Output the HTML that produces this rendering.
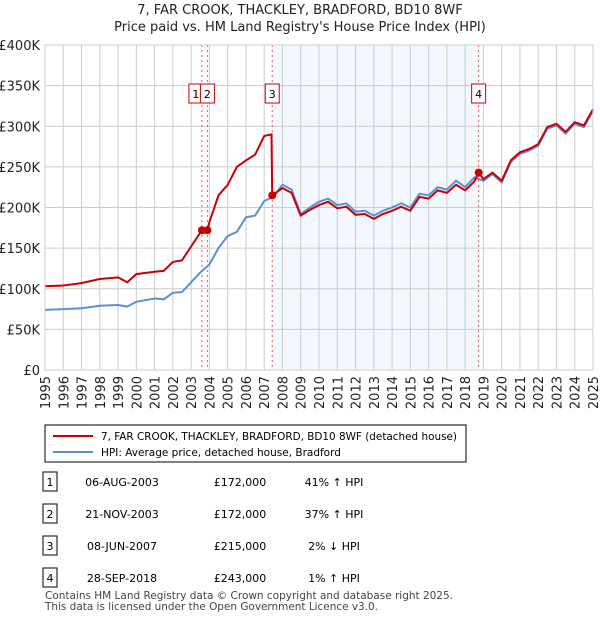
<!DOCTYPE html>
<html><head><meta charset="utf-8"><style>
body{margin:0;background:#fff;font-family:"Liberation Sans","DejaVu Sans",sans-serif;}
svg text{font-family:"DejaVu Sans","Liberation Sans",sans-serif;}
</style></head><body>
<svg width="600" height="620" xmlns="http://www.w3.org/2000/svg">
<text x="300" y="14" text-anchor="middle" font-size="13" fill="#222">7, FAR CROOK, THACKLEY, BRADFORD, BD10 8WF</text>
<text x="300" y="31" text-anchor="middle" font-size="13" fill="#222">Price paid vs. HM Land Registry's House Price Index (HPI)</text>
<g id="plot"></g>
<g>
<rect x="45" y="425" width="421" height="37" fill="#fff" stroke="#000" stroke-width="1"/>
<line x1="53" y1="436" x2="93" y2="436" stroke="#cc0000" stroke-width="2"/>
<text x="101" y="440" font-size="10.5" textLength="356" lengthAdjust="spacingAndGlyphs" fill="#000">7, FAR CROOK, THACKLEY, BRADFORD, BD10 8WF (detached house)</text>
<line x1="53" y1="452" x2="93" y2="452" stroke="#5b8fd6" stroke-width="2"/>
<text x="101" y="456" font-size="10.5" fill="#000">HPI: Average price, detached house, Bradford</text>
</g>
<g id="table" font-size="11" fill="#000"></g>
<text x="45" y="599" font-size="10.5" textLength="408" lengthAdjust="spacingAndGlyphs" fill="#444">Contains HM Land Registry data © Crown copyright and database right 2025.</text>
<text x="45" y="610" font-size="10.5" textLength="333" lengthAdjust="spacingAndGlyphs" fill="#444">This data is licensed under the Open Government Licence v3.0.</text>
</svg>
<script>
const hpiYears=[1995,1996,1997,1998,1999,1999.5,2000,2001,2001.5,2002,2002.5,2003,2003.5,2004,2004.5,2005,2005.5,2006,2006.5,2007,2007.5,2008,2008.5,2009,2009.5,2010,2010.5,2011,2011.5,2012,2012.5,2013,2013.5,2014,2014.5,2015,2015.5,2016,2016.5,2017,2017.5,2018,2018.5,2019,2019.5,2020,2020.5,2021,2021.5,2022,2022.5,2023,2023.5,2024,2024.5,2025];
const hpiValues=[74,75,76,79,80,78,84,88,87,95,96,108,120,130,150,165,170,188,190,208,213,228,222,192,200,207,211,203,205,195,196,190,196,200,205,200,217,215,225,222,233,225,237,233,241,231,256,266,270,276,297,301,291,303,299,319];
const priceYears=[1995,1996,1997,1998,1999,1999.5,2000,2001,2001.5,2002,2002.5,2003,2003.59,2003.89,2004,2004.5,2005,2005.5,2006,2006.5,2007,2007.4,2007.44,2008,2008.5,2009,2009.5,2010,2010.5,2011,2011.5,2012,2012.5,2013,2013.5,2014,2014.5,2015,2015.5,2016,2016.5,2017,2017.5,2018,2018.5,2018.74,2019,2019.5,2020,2020.5,2021,2021.5,2022,2022.5,2023,2023.5,2024,2024.5,2025];
const priceValues=[103,104,107,112,114,108,118,121,122,133,135,152,172,172,182,215,228,250,258,265,288,290,215,224,218,190,197,203,207,199,201,191,192,186,192,196,201,196,213,211,221,218,228,221,232,243,235,243,233,258,268,272,278,299,303,293,305,301,321];
const sales=[{n:"1",t:2003.59,v:172,d:"06-AUG-2003",p:"£172,000",h:"41% ↑ HPI"},{n:"2",t:2003.89,v:172,d:"21-NOV-2003",p:"£172,000",h:"37% ↑ HPI"},{n:"3",t:2007.44,v:215,d:"08-JUN-2007",p:"£215,000",h:"2% ↓ HPI"},{n:"4",t:2018.74,v:243,d:"28-SEP-2018",p:"£243,000",h:"1% ↑ HPI"}];
const yTicks=[0,50,100,150,200,250,300,350,400];
const NS="http://www.w3.org/2000/svg";
const X0=45,X1=593,Y0=370,Y1=45;
const xs=t=>X0+(t-1995)/30*(X1-X0);
const ys=v=>Y0-v/400*(Y0-Y1);
const plot=document.getElementById('plot');
function mk(tag,attrs,parent){const e=document.createElementNS(NS,tag);for(const k in attrs)e.setAttribute(k,attrs[k]);(parent||plot).appendChild(e);return e;}
let r=mk('rect',{x:xs(2007.44),y:Y1,width:xs(2018.74)-xs(2007.44),height:Y0-Y1,fill:'#eef3fd',opacity:0.7});


for(const v of yTicks){
 let l=mk('line',{x1:X0,x2:X1,y1:ys(v),y2:ys(v),stroke:'#ccc'});
 
 
 let t=mk('text',{x:X0-5,y:ys(v)+5,'text-anchor':'end','font-size':13,fill:'#222'});
 t.textContent=v===0?'£0':'£'+v+'K';
 
 
}
for(let y=1995;y<=2025;y++){
 let l=mk('line',{x1:xs(y),x2:xs(y),y1:Y1,y2:Y0,stroke:'#ccc'});
 
 
 let t=mk('text',{x:0,y:0,'font-size':13,fill:'#222','text-anchor':'end',transform:`translate(${xs(y)+5},${Y0+6}) rotate(-90)`});
 t.textContent=y;
 
 
}
for(const s of sales){
 let l=mk('line',{x1:xs(s.t),x2:xs(s.t),y1:Y1,y2:Y0,stroke:'#ee5555','stroke-dasharray':'2,3'});
 
 
}
const path=(xa,va)=>xa.map((t,i)=>(i?'L':'M')+xs(t).toFixed(1)+','+ys(va[i]).toFixed(1)).join('');
let hp=mk('path',{d:path(hpiYears,hpiValues),fill:'none',stroke:'#5b8fd6','stroke-width':2});


let pp=mk('path',{d:path(priceYears,priceValues),fill:'none',stroke:'#cc0000','stroke-width':2});


const labelOff={"1":-6,"2":0,"3":0,"4":0};
for(const s of sales){
 let c=mk('circle',{cx:xs(s.t),cy:ys(s.v),r:4,fill:'#cc0000'});
 
 
 const bx=xs(s.t)+labelOff[s.n]-7;
 let b=mk('rect',{x:bx,y:84,width:14,height:19,fill:'#fff',stroke:'#cc0000'});
 
 
 let t=mk('text',{x:bx+7,y:98,'text-anchor':'middle','font-size':11,fill:'#000'});
 t.textContent=s.n;
 
 
}
let f=mk('rect',{x:X0,y:Y1,width:X1-X0,height:Y0-Y1,fill:'none',stroke:'#ccc'});


const tb=document.getElementById('table');
sales.forEach((s,i)=>{
 const y=482+i*32;
 let b=mk('rect',{x:43,y:y-10,width:14,height:19,fill:'#fff',stroke:'#000'},tb);
 
 
 const cells=[[50,s.n,'middle'],[122,s.d,'middle'],[240,s.p,'middle'],[334,s.h,'middle']];
 for(const [x,txt,a] of cells){
  let t=mk('text',{x:x,y:y+4,'text-anchor':a},tb);
  t.textContent=txt;
  
  
 }
});
</script>
</body></html>
